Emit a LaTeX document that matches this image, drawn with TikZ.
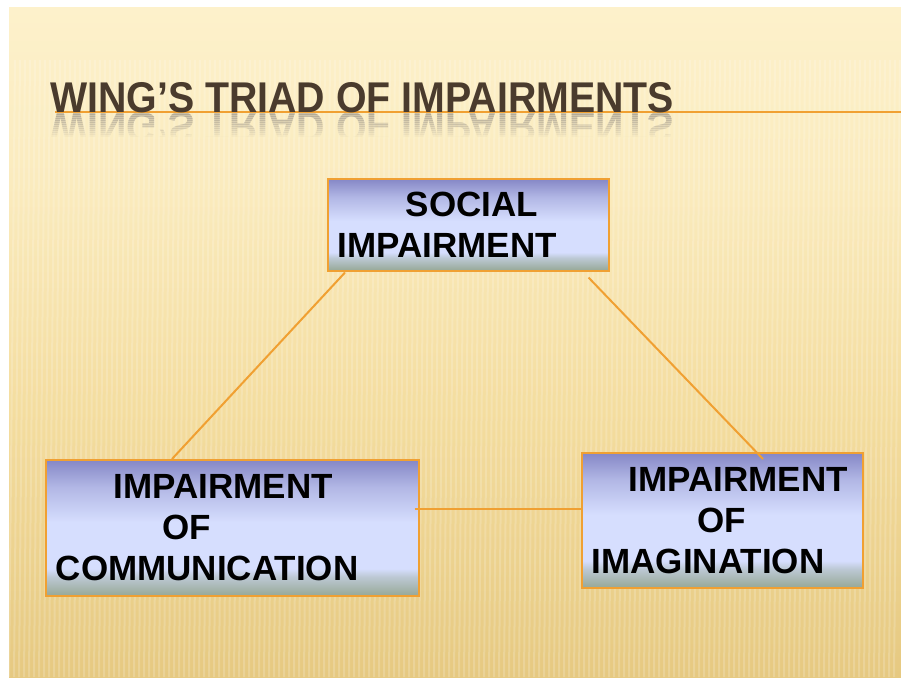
\documentclass[tikz,border=0pt]{standalone}
\usepackage{fontspec}
\setmainfont{Liberation Sans}
\usepackage{tikz}

\definecolor{slidetop}{HTML}{FDF1CB}
\definecolor{slidemid}{HTML}{F4DD9F}
\definecolor{slidebot}{HTML}{E6C981}
\definecolor{titlebrown}{HTML}{4A3B2D}
\definecolor{titlerefl}{HTML}{9C9488}
\definecolor{lineorange}{HTML}{F0A032}
\definecolor{boxtop}{HTML}{8587C6}
\definecolor{boxmid}{HTML}{D6DEFE}
\definecolor{boxbot}{HTML}{96A896}

\pgfdeclareverticalshading{slidefill}{100bp}{color(0bp)=(slidebot); color(25bp)=(slidebot); color(45bp)=(slidemid); color(62bp)=(slidetop!70!slidemid); color(75bp)=(slidetop); color(100bp)=(slidetop)}
\pgfdeclareverticalshading{boxfill}{100bp}{color(0bp)=(boxbot); color(25bp)=(boxbot); color(32bp)=(boxmid!60!boxbot); color(35bp)=(boxmid); color(52bp)=(boxmid); color(65bp)=(boxtop!45!boxmid); color(75bp)=(boxtop); color(100bp)=(boxtop)}

\begin{document}
\begin{tikzpicture}[x=1pt,y=-1pt,
    box/.style={draw=lineorange, line width=1.5pt, shading=boxfill, anchor=north west,
        inner xsep=10pt, inner ysep=0pt, align=left,
        font=\fontsize{35}{41}\selectfont\bfseries},
    link/.style={draw=lineorange, line width=2pt},
    headline/.style={anchor=base west, inner sep=0pt, font=\fontsize{43}{43}\selectfont\bfseries}]

\useasboundingbox (0,0) rectangle (901,677);
\fill[white] (0,0) rectangle (901,677);
\fill[shading=slidefill] (9,8) rectangle (901,677); % slide background
\foreach \x in {9,14,...,896}{
    \draw[white, opacity=0.18, line width=2pt] (\x+6,60) -- (\x,677); % stripes
}

% title with its mirror image
\foreach \k in {0,...,11}{
    \pgfmathsetmacro\op{0.5-0.04*\k}
    \begin{scope}
        \clip (0,112+2*\k) rectangle (901,114+2*\k);
        \node[headline, text=titlerefl, opacity=\op] (titlerefl\k) at (50,112)
            {\scalebox{0.914}[-1]{WING’S TRIAD OF IMPAIRMENTS}};
    \end{scope}
}
\draw[lineorange, line width=2pt] (55,112) -- (901,112); % title rule
\node[headline, text=titlebrown] (title) at (50,112)
    {\scalebox{0.914}[1]{WING’S TRIAD OF IMPAIRMENTS}};

\node[box, text width=261pt, minimum height=92pt] (social) at (327,178)
    {\hspace*{68pt}SOCIAL\\IMPAIRMENT};
\node[box, text width=353pt, minimum height=136pt] (comm) at (45,459)
    {\hspace*{58pt}IMPAIRMENT\\\hspace*{107pt}OF\\COMMUNICATION};
\node[box, text width=261pt, minimum height=135pt] (imag) at (581,452)
    {\hspace*{37pt}IMPAIRMENT\\\hspace*{106pt}OF\\IMAGINATION};

\draw[link] ([shift={(18,1)}]social.south west) -- ([shift={(127,0)}]comm.north west);
\draw[link] ([shift={(-21,6)}]social.south east) -- ([shift={(182,7)}]imag.north west);
\draw[link] ([shift={(-5,-19)}]comm.east) -- ([shift={(0,-11.5)}]imag.west);

\end{tikzpicture}
\end{document}
